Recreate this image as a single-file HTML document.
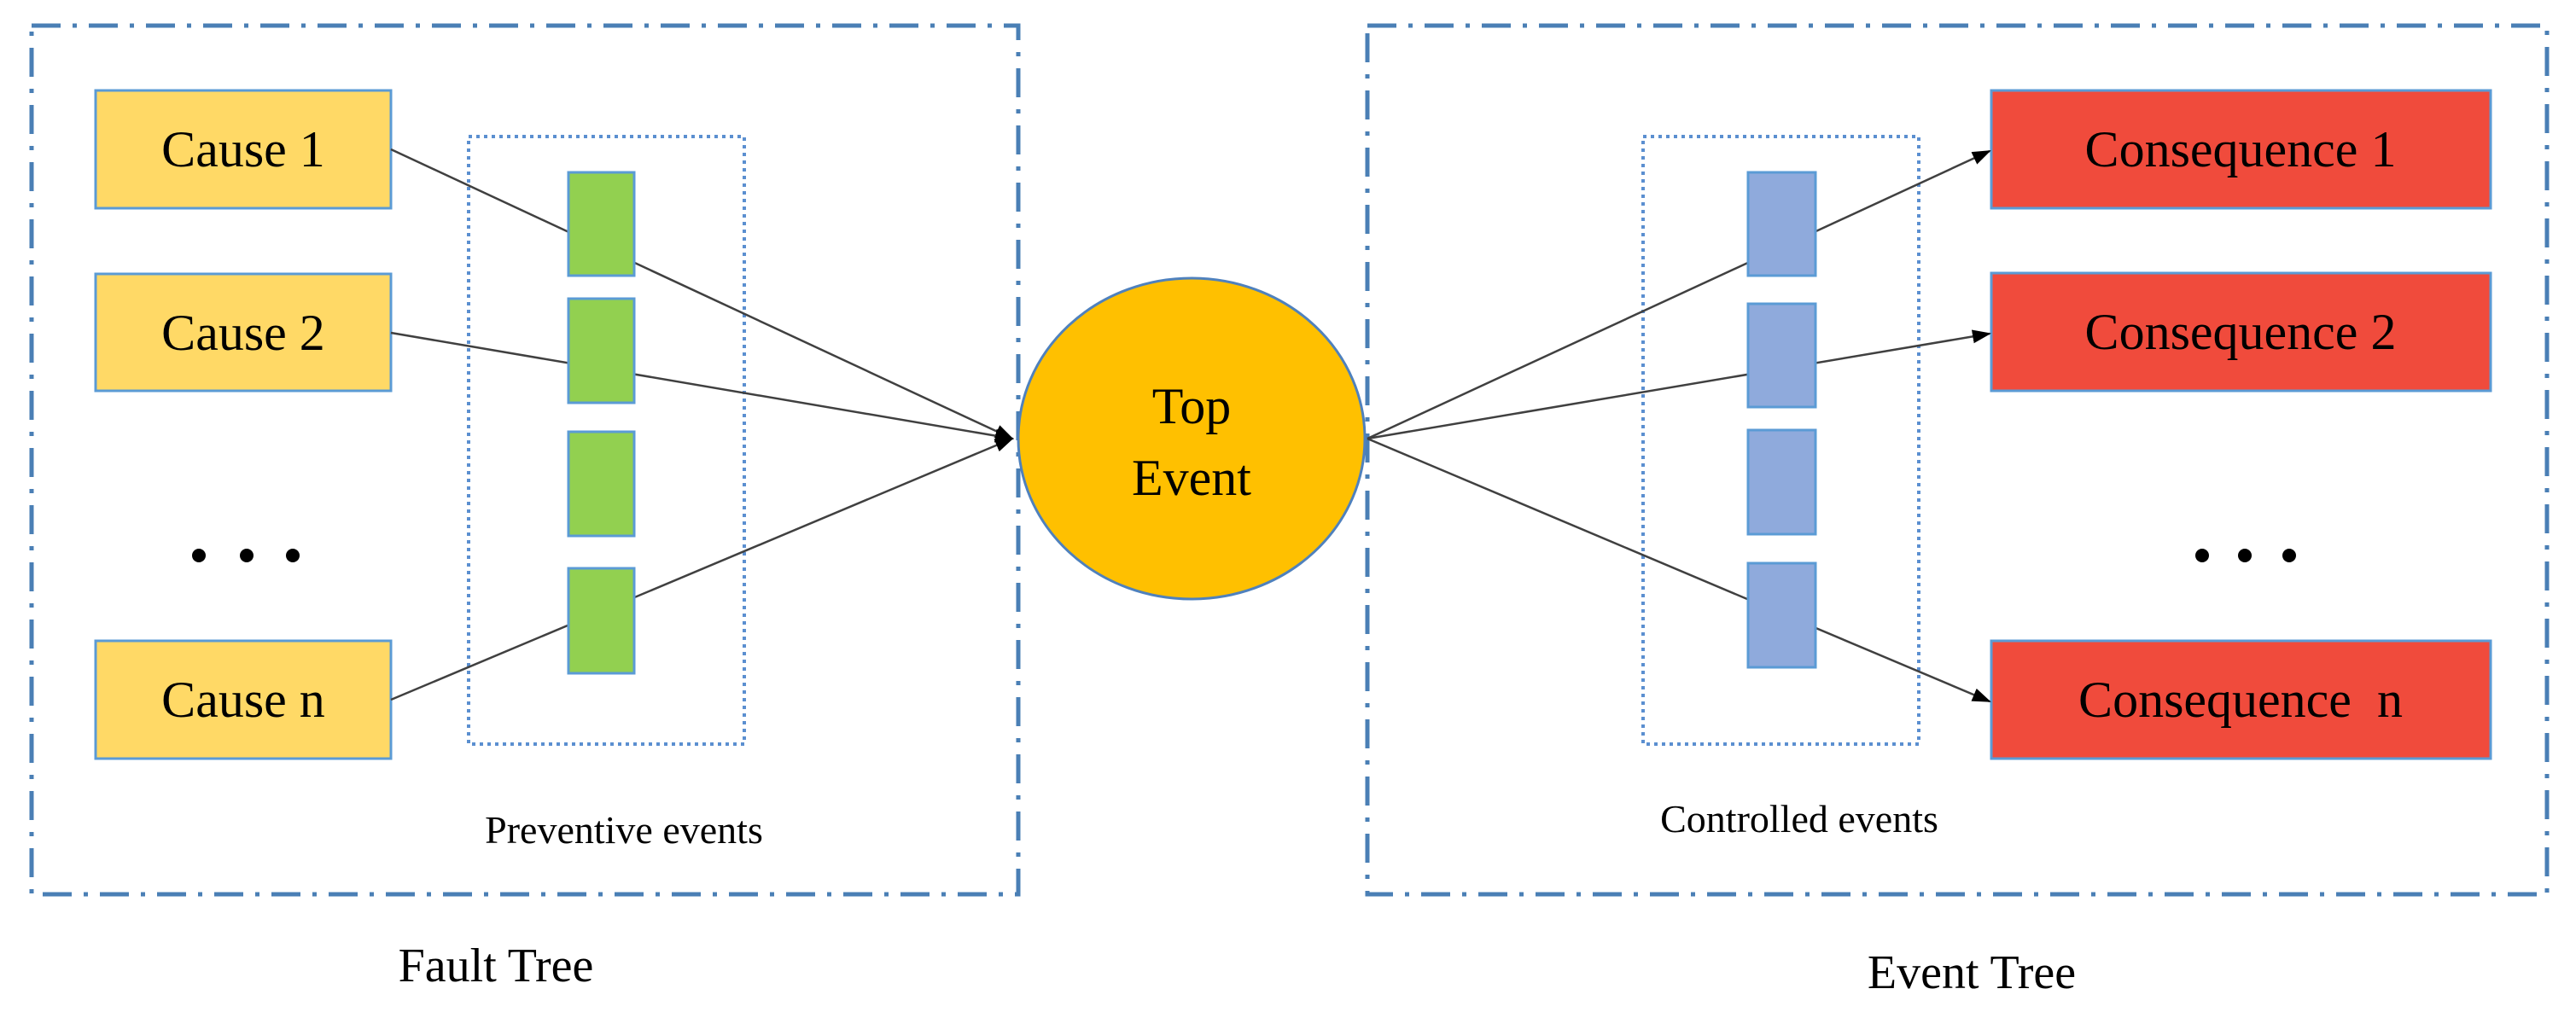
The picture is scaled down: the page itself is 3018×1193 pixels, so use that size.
<!DOCTYPE html>
<html><head><meta charset="utf-8"><style>html,body{margin:0;padding:0;background:#fff}</style></head>
<body>
<svg width="3018" height="1188" viewBox="0 0 3018 1188" xmlns="http://www.w3.org/2000/svg" font-family="'Liberation Serif', serif">
<defs>
<marker id="ar" markerWidth="10" markerHeight="10" refX="9" refY="5" orient="auto" markerUnits="userSpaceOnUse" viewBox="0 0 10 10"><path d="M0,0 L10,5 L0,10 z" fill="#000"/></marker>
<marker id="ar2" markerWidth="22" markerHeight="22" refX="20" refY="11" orient="auto" markerUnits="userSpaceOnUse" viewBox="0 0 22 22"><path d="M0,3 L22,11 L0,19 z" fill="#000"/></marker>
</defs>
<g fill="none" stroke="#4a7fb5" stroke-width="5" stroke-dasharray="34,14,5,14">
<rect x="37" y="30" width="1156" height="1018"/>
<rect x="1602" y="30" width="1382" height="1018"/>
</g>
<g fill="none" stroke="#5b8fd0" stroke-width="4" stroke-dasharray="4,5">
<rect x="549" y="160" width="323" height="712"/>
<rect x="1925" y="160" width="323" height="712"/>
</g>
<g fill="#ffd966" stroke="#5b9bd5" stroke-width="3">
<rect x="112" y="106" width="346" height="138"/>
<rect x="112" y="321" width="346" height="137"/>
<rect x="112" y="751" width="346" height="138"/>
</g>
<g fill="#f04b3c" stroke="#5b9bd5" stroke-width="3">
<rect x="2333" y="106" width="585" height="138"/>
<rect x="2333" y="320" width="585" height="138"/>
<rect x="2333" y="751" width="585" height="138"/>
</g>
<g stroke="#404040" stroke-width="2.5" fill="none">
<line x1="458" y1="175" x2="1186" y2="514" marker-end="url(#ar2)"/>
<line x1="458" y1="390" x2="1186" y2="514" marker-end="url(#ar2)"/>
<line x1="458" y1="820" x2="1186" y2="514" marker-end="url(#ar2)"/>
<line x1="1602" y1="514" x2="2331" y2="177" marker-end="url(#ar2)"/>
<line x1="1602" y1="514" x2="2331" y2="391" marker-end="url(#ar2)"/>
<line x1="1602" y1="514" x2="2331" y2="822" marker-end="url(#ar2)"/>
</g>
<g fill="#92d050" stroke="#5b9bd5" stroke-width="3">
<rect x="666" y="202" width="77" height="121"/>
<rect x="666" y="350" width="77" height="122"/>
<rect x="666" y="506" width="77" height="122"/>
<rect x="666" y="666" width="77" height="123"/>
</g>
<g fill="#8faadc" stroke="#5b9bd5" stroke-width="3">
<rect x="2048" y="202" width="79" height="121"/>
<rect x="2048" y="356" width="79" height="121"/>
<rect x="2048" y="504" width="79" height="122"/>
<rect x="2048" y="660" width="79" height="122"/>
</g>
<ellipse cx="1396" cy="514" rx="203" ry="188" fill="#ffc000" stroke="#4f81bd" stroke-width="3"/>
<g fill="#000">
<circle cx="233" cy="651" r="8"/><circle cx="289" cy="651" r="8"/><circle cx="343" cy="651" r="8"/>
<circle cx="2580" cy="651" r="8"/><circle cx="2630" cy="651" r="8"/><circle cx="2682" cy="651" r="8"/>
</g>
<g font-size="60" text-anchor="middle" fill="#000">
<text x="285" y="195">Cause 1</text>
<text x="285" y="410">Cause 2</text>
<text x="285" y="840">Cause n</text>
<text x="2625" y="195">Consequence 1</text>
<text x="2625" y="409">Consequence 2</text>
<text x="2625" y="840">Consequence&#160; n</text>
<text x="1396" y="496">Top</text>
<text x="1396" y="580">Event</text>
</g>
<g font-size="46" text-anchor="middle" fill="#000">
<text x="731" y="988">Preventive events</text>
<text x="2108" y="975">Controlled events</text>
</g>
<g font-size="56" text-anchor="middle" fill="#000">
<text x="581" y="1150">Fault Tree</text>
<text x="2310" y="1158">Event Tree</text>
</g>
</svg>
</body></html>
